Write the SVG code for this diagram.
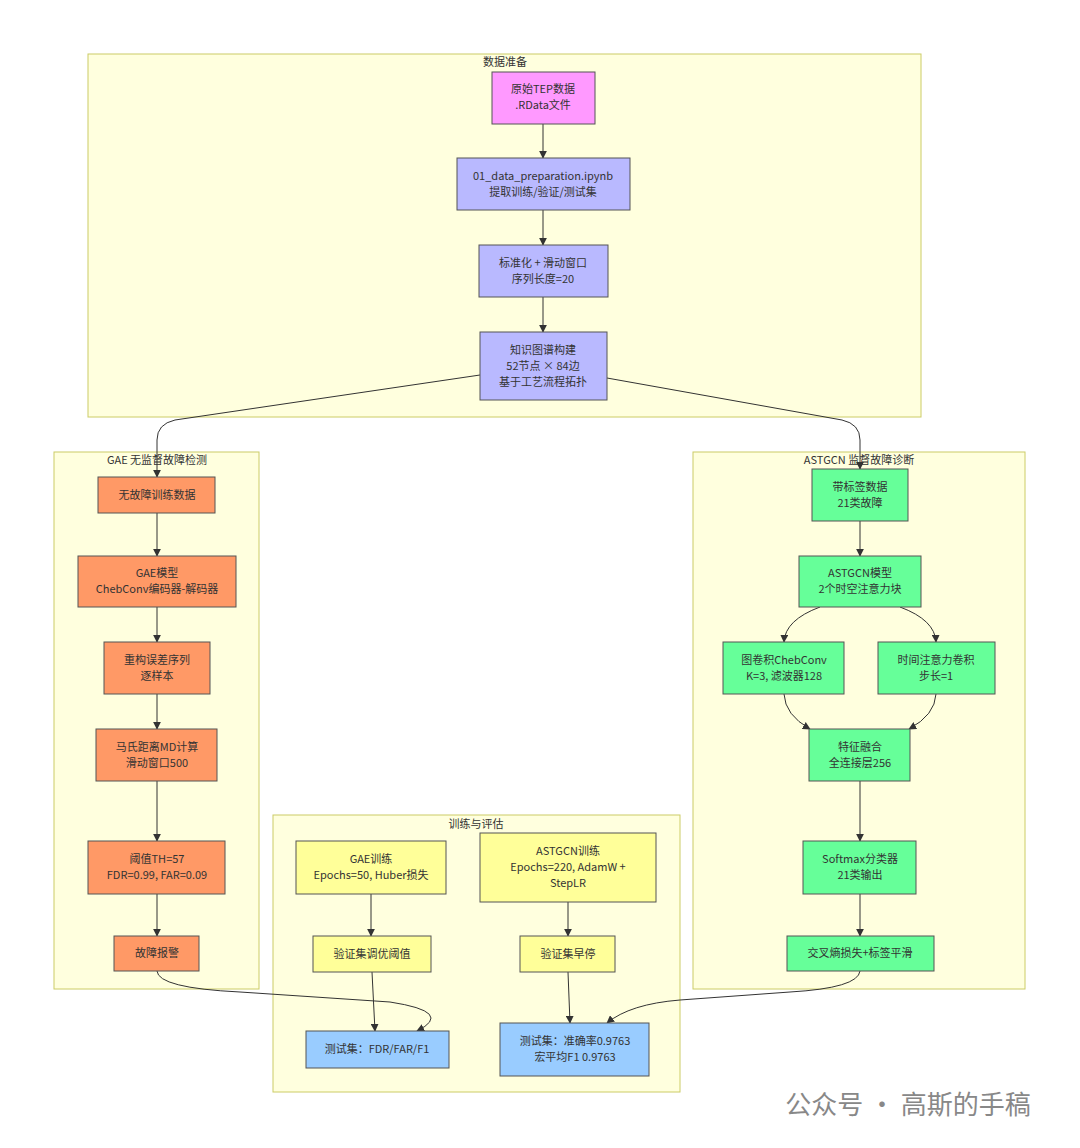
<svg xmlns="http://www.w3.org/2000/svg" width="1080" height="1148" viewBox="0 0 1080 1148">
<style>
text{font-family:"Noto Sans CJK SC","Noto Sans",sans-serif;font-size:11px;fill:#333;text-anchor:middle}
.cl{fill:#ffffde;stroke:#cccc66;stroke-width:1}
.n rect{stroke:#555;stroke-width:1}
.m{fill:#ff99ff}.p{fill:#b9b9ff}.o{fill:#ff9966}.g{fill:#66ff99}.y{fill:#ffff99}.b{fill:#99ccff}
.e{fill:none;stroke:#333;stroke-width:1;marker-end:url(#a)}
</style>
<defs><marker id="a" viewBox="0 0 10 10" refX="9" refY="5" markerWidth="8" markerHeight="8" orient="auto"><path d="M0,0L10,5L0,10z" fill="#333"/></marker></defs>
<rect width="1080" height="1148" fill="#fff"/>
<g id="clusters">
<rect class="cl" x="88" y="54" width="833" height="363"/><text x="505" y="66">数据准备</text>
<rect class="cl" x="54" y="452" width="205" height="537"/><text x="157" y="464">GAE 无监督故障检测</text>
<rect class="cl" x="693" y="452" width="332" height="537"/><text x="859" y="464">ASTGCN 监督故障诊断</text>
<rect class="cl" x="273" y="815" width="407" height="277"/><text x="476" y="828">训练与评估</text>
</g>
<g id="connectors">
<path class="e" d="M543,124V158"/>
<path class="e" d="M543,210V245"/>
<path class="e" d="M543,297V332"/>
<path class="e" d="M480,375L175,420Q157,424 157,440V477"/>
<path class="e" d="M607,378L842,420Q860,424 860,440V469"/>
<path class="e" d="M157,513V556"/>
<path class="e" d="M157,607V642"/>
<path class="e" d="M157,694V729"/>
<path class="e" d="M157,781V841"/>
<path class="e" d="M157,894V936"/>
<path class="e" d="M860,521V556"/>
<path class="e" d="M820,607Q785,620 784,642"/>
<path class="e" d="M900,607Q935,620 936,642"/>
<path class="e" d="M784,694Q785,715 810,729"/>
<path class="e" d="M936,694Q935,715 909,729"/>
<path class="e" d="M860,781V841"/>
<path class="e" d="M860,894V936"/>
<path class="e" d="M371,894V936"/>
<path class="e" d="M568,902V936"/>
<path class="e" d="M372,972L375,1031"/>
<path class="e" d="M568,972L570,1023"/>
<path class="e" d="M157,971Q158,988 240,992L390,1002Q455,1012 417,1031"/>
<path class="e" d="M860,971Q858,988 790,992L680,1000Q630,1004 607,1023"/>
</g>
<g id="n1" class="n"><rect class="m" x="492" y="72" width="103" height="52"/><text x="543" y="93">原始TEP数据</text><text x="543" y="109">.RData文件</text></g>
<g id="n2" class="n"><rect class="p" x="457" y="158" width="173" height="52"/><text x="543" y="180">01_data_preparation.ipynb</text><text x="543" y="196">提取训练/验证/测试集</text></g>
<g id="n3" class="n"><rect class="p" x="479" y="245" width="129" height="52"/><text x="543" y="267">标准化 + 滑动窗口</text><text x="543" y="283">序列长度=20</text></g>
<g id="n4" class="n"><rect class="p" x="480" y="332" width="127" height="68"/><text x="543" y="354">知识图谱构建</text><text x="543" y="370">52节点 × 84边</text><text x="543" y="386">基于工艺流程拓扑</text></g>
<g id="g1" class="n"><rect class="o" x="98" y="477" width="117" height="36"/><text x="157" y="499">无故障训练数据</text></g>
<g id="g2" class="n"><rect class="o" x="78" y="556" width="158" height="51"/><text x="157" y="577">GAE模型</text><text x="157" y="593">ChebConv编码器-解码器</text></g>
<g id="g3" class="n"><rect class="o" x="104" y="642" width="106" height="52"/><text x="157" y="664">重构误差序列</text><text x="157" y="680">逐样本</text></g>
<g id="g4" class="n"><rect class="o" x="96" y="729" width="121" height="52"/><text x="157" y="751">马氏距离MD计算</text><text x="157" y="767">滑动窗口500</text></g>
<g id="g5" class="n"><rect class="o" x="88" y="841" width="137" height="53"/><text x="157" y="863">阈值TH=57</text><text x="157" y="879">FDR=0.99, FAR=0.09</text></g>
<g id="g6" class="n"><rect class="o" x="114" y="936" width="85" height="35"/><text x="157" y="957">故障报警</text></g>
<g id="a1" class="n"><rect class="g" x="812" y="469" width="96" height="52"/><text x="860" y="491">带标签数据</text><text x="860" y="507">21类故障</text></g>
<g id="a2" class="n"><rect class="g" x="799" y="556" width="122" height="51"/><text x="860" y="577">ASTGCN模型</text><text x="860" y="593">2个时空注意力块</text></g>
<g id="a3" class="n"><rect class="g" x="723" y="642" width="121" height="52"/><text x="784" y="664">图卷积ChebConv</text><text x="784" y="680">K=3, 滤波器128</text></g>
<g id="a4" class="n"><rect class="g" x="878" y="642" width="117" height="52"/><text x="936" y="664">时间注意力卷积</text><text x="936" y="680">步长=1</text></g>
<g id="a5" class="n"><rect class="g" x="809" y="729" width="101" height="52"/><text x="860" y="751">特征融合</text><text x="860" y="767">全连接层256</text></g>
<g id="a6" class="n"><rect class="g" x="803" y="841" width="113" height="53"/><text x="860" y="863">Softmax分类器</text><text x="860" y="879">21类输出</text></g>
<g id="a7" class="n"><rect class="g" x="787" y="936" width="147" height="35"/><text x="860" y="957">交叉熵损失+标签平滑</text></g>
<g id="t1" class="n"><rect class="y" x="296" y="841" width="150" height="53"/><text x="371" y="863">GAE训练</text><text x="371" y="879">Epochs=50, Huber损失</text></g>
<g id="t2" class="n"><rect class="y" x="480" y="833" width="176" height="69"/><text x="568" y="855">ASTGCN训练</text><text x="568" y="871">Epochs=220, AdamW +</text><text x="568" y="887">StepLR</text></g>
<g id="t3" class="n"><rect class="y" x="313" y="936" width="118" height="36"/><text x="372" y="958">验证集调优阈值</text></g>
<g id="t4" class="n"><rect class="y" x="520" y="936" width="95" height="36"/><text x="568" y="958">验证集早停</text></g>
<g id="t5" class="n"><rect class="b" x="306" y="1031" width="143" height="37"/><text x="377" y="1053">测试集：FDR/FAR/F1</text></g>
<g id="t6" class="n"><rect class="b" x="500" y="1023" width="149" height="53"/><text x="575" y="1045">测试集：准确率0.9763</text><text x="575" y="1061">宏平均F1 0.9763</text></g>
<text x="908" y="1114" style="font-size:26px;fill:#888">公众号 · 高斯的手稿</text>
</svg>
